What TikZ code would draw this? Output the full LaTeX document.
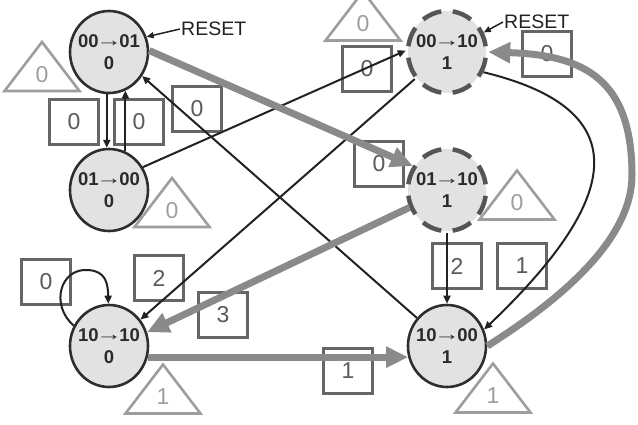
\documentclass[tikz,border=0pt]{standalone}
\usepackage{fontspec}
\setmainfont{Liberation Sans}
\usetikzlibrary{shapes.geometric,arrows.meta,calc}
\definecolor{nodefill}{HTML}{E2E2E2}
\definecolor{nodeborder}{HTML}{2E2E2E}
\definecolor{dashborder}{HTML}{555555}
\definecolor{nodetext}{HTML}{2A2A2A}
\definecolor{edgedark}{HTML}{222222}
\definecolor{thickgray}{HTML}{8A8A8A}
\definecolor{trigray}{HTML}{9E9E9E}
\definecolor{sqgray}{HTML}{666666}
\definecolor{sqtext}{HTML}{5A5A5A}
\newcommand{\trarrow}{\kern-2.6pt\raisebox{1.2pt}{\scalebox{1.4}[1]{→}}\kern-2.6pt}
\begin{document}
\begin{tikzpicture}[x=1pt,y=-1pt,
  state/.style={ellipse, draw=nodeborder, line width=2.6pt, fill=nodefill,
    minimum width=78pt, minimum height=82pt, inner sep=0pt},
  dstate/.style={state, draw=dashborder, line width=4.5pt,
    dash pattern=on 20pt off 11.4pt, dash phase=25.7pt},
  stlbl/.style={inner sep=0pt, align=center, text=nodetext,
    font=\fontsize{18.5}{22}\selectfont\bfseries},
  thinarr/.style={draw=edgedark, line width=2pt, -{Triangle[length=8pt,width=7pt]}},
  thickarr/.style={draw=thickgray, line width=7pt, -{Triangle[length=22pt,width=20pt]}},
  resetlbl/.style={inner sep=1pt, text=edgedark, font=\fontsize{19.5}{20}\selectfont},
  resetarr/.style={draw=edgedark, line width=1.5pt, -{Triangle[length=7pt,width=6pt]}},
  sq/.style={draw=sqgray, line width=2.6pt, minimum width=49pt, minimum height=45pt,
    inner sep=0pt, text=sqtext, font=\fontsize{23}{23}\selectfont},
  triline/.style={draw=trigray, line width=2.6pt},
  trilbl/.style={inner sep=0pt, text=trigray, font=\fontsize{23}{23}\selectfont},
  pics/tri/.style={code={
    \draw[triline] (-37.5,24.5) -- (0,-24.5) -- (37.5,24.5) -- cycle;
    \node[trilbl] (-lbl) at (0,8) {#1};}}
]
\clip (0,0) rectangle (638,424);
\fill[white] (0,0) rectangle (638,424);

% triangles
\pic (t1) at (42,66.5) {tri=0};
\pic (t2) at (172,202.5) {tri=0};
\pic (t3) at (363,16) {tri=0};
\pic (t4) at (517,195) {tri=0};
\pic (t5) at (163,389) {tri=1};
\pic (t6) at (493,388) {tri=1};

% squares
\node[sq] (s1) at (74,122) {0};
\node[sq] (s2) at (139,122) {0};
\node[sq] (s3) at (197,109) {0};
\node[sq] (s4) at (367,69) {0};
\node[sq] (s5) at (547,54) {0};
\node[sq] (s6) at (379,164) {0};
\node[sq] (s7) at (46,282) {0};
\node[sq] (s8) at (159,278) {2};
\node[sq] (s9) at (223,315) {3};
\node[sq] (s10) at (457,266) {2};
\node[sq] (s11) at (522,266) {1};
\node[sq] (s12) at (348,371) {1};

% states
\node[state] (A) at (109,52) {};
\node[state] (B) at (109,190) {};
\node[dstate] (C) at (447,52) {};
\node[dstate] (D) at (447,190) {};
\node[state] (E) at (109,346) {};
\node[state] (F) at (447,346) {};
\node[stlbl] (Al) at (A) {00\trarrow01\\0};
\node[stlbl] (Bl) at (B) {01\trarrow00\\0};
\node[stlbl] (Cl) at (C) {00\trarrow10\\1};
\node[stlbl] (Dl) at (D) {01\trarrow10\\1};
\node[stlbl] (El) at (E) {10\trarrow10\\0};
\node[stlbl] (Fl) at (F) {10\trarrow00\\1};

% thin transitions
\draw[thinarr] (A.267) -- (B.93);
\draw[thinarr] (B.67) -- (A.-67);
\draw[thinarr] (B.34) -- (C.178);
\draw[thinarr] (F.137) -- (A.-36);
\draw[thinarr] (C.220) -- (E.40);
\draw[thinarr] (C.-29) .. controls (640,110) and (620,200) .. (F.24);
\draw[thinarr] (D.south) -- (F.north);
\draw[thinarr] (E.150) .. controls (50,305) and (60,268) .. (88,270)
  .. controls (105,271) and (108,282) .. (E.91);

% thick transitions
\draw[thickarr] (A.2) -- (D.145);
\draw[thickarr] (D.205) -- (E.20);
\draw[thickarr] (E.-16) -- (F.196);
\draw[thickarr] (F.0) .. controls (560,300) and (632,240) .. (632,175)
  .. controls (632,80) and (585,55) .. (C.0);

% reset markers
\node[resetlbl, anchor=west] (r1) at (180,29) {RESET};
\draw[resetarr] (r1.west) -- (A.22);
\node[resetlbl, anchor=west] (r2) at (503,22) {RESET};
\draw[resetarr] (r2.west) -- (C.28);
\end{tikzpicture}
\end{document}
